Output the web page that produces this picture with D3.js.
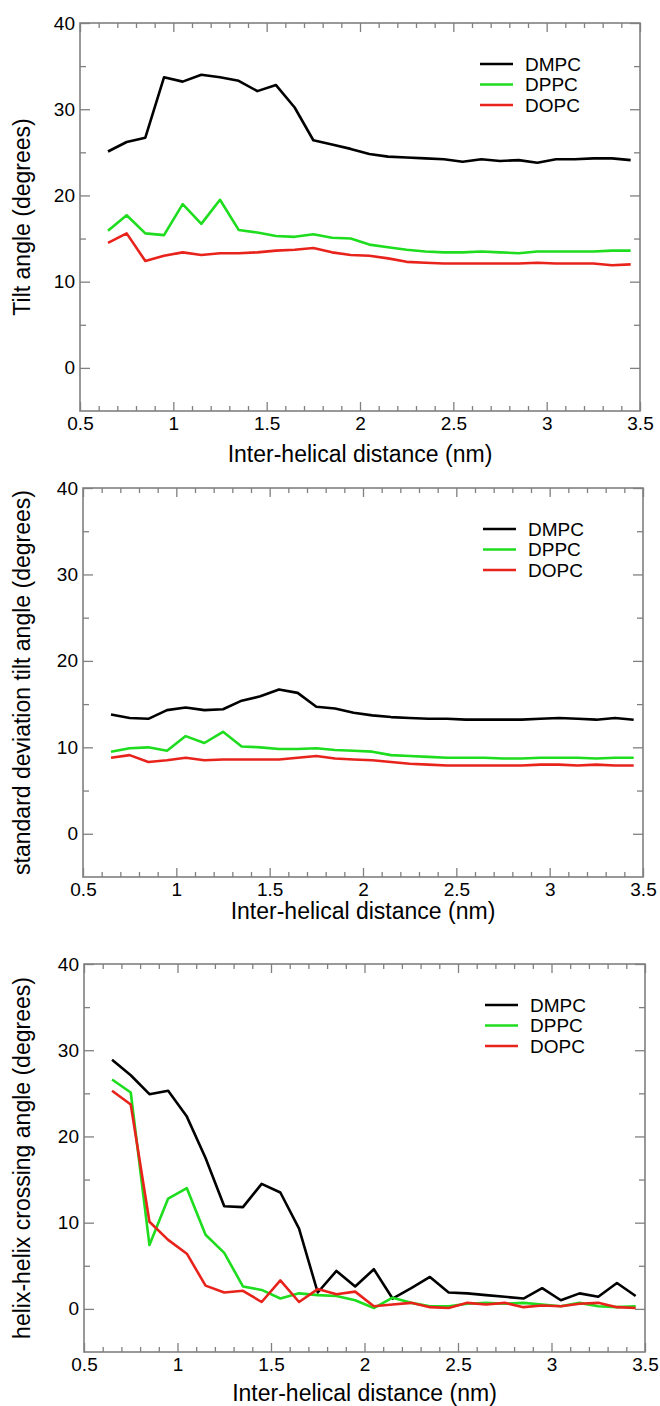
<!DOCTYPE html>
<html>
<head>
<meta charset="utf-8">
<script src="https://cdn.jsdelivr.net/npm/d3@7"></script>
<style>
  body { margin: 0; background: #fff; }
  svg { display: block; font-family: "Liberation Sans", Arial, Helvetica, sans-serif; }
</style>
</head>
<body>
<div id="chart"></div>
<script>
// inter-helical distance (nm), same for all three panels
var distance = [0.65, 0.75, 0.85, 0.95, 1.05, 1.15, 1.25, 1.35, 1.45, 1.55, 1.65, 1.75, 1.85, 1.95,
                2.05, 2.15, 2.25, 2.35, 2.45, 2.55, 2.65, 2.75, 2.85, 2.95, 3.05, 3.15, 3.25, 3.35, 3.45];

var lipids = ["DMPC", "DPPC", "DOPC"];
var colors = ["#000000", "#1edc1e", "#e8231c"];

// panel 1: tilt angle
var tiltDMPC = [25.1, 26.2, 26.7, 33.7, 33.2, 34.0, 33.7, 33.3, 32.1, 32.8, 30.2, 26.4, 25.9, 25.4,
                24.8, 24.5, 24.4, 24.3, 24.2, 23.9, 24.2, 24.0, 24.1, 23.8, 24.2, 24.2, 24.3, 24.3, 24.1];
var tiltDPPC = [15.9, 17.7, 15.6, 15.4, 19.0, 16.7, 19.5, 16.0, 15.7, 15.3, 15.2, 15.5, 15.1, 15.0,
                14.3, 14.0, 13.7, 13.5, 13.4, 13.4, 13.5, 13.4, 13.3, 13.5, 13.5, 13.5, 13.5, 13.6, 13.6];
var tiltDOPC = [14.5, 15.6, 12.4, 13.0, 13.4, 13.1, 13.3, 13.3, 13.4, 13.6, 13.7, 13.9, 13.4, 13.1,
                13.0, 12.7, 12.3, 12.2, 12.1, 12.1, 12.1, 12.1, 12.1, 12.2, 12.1, 12.1, 12.1, 11.9, 12.0];

// panel 2: standard deviation of tilt angle
var sdDMPC = [13.8, 13.4, 13.3, 14.3, 14.6, 14.3, 14.4, 15.4, 15.9, 16.7, 16.3, 14.7, 14.5, 14.0,
              13.7, 13.5, 13.4, 13.3, 13.3, 13.2, 13.2, 13.2, 13.2, 13.3, 13.4, 13.3, 13.2, 13.4, 13.2];
var sdDPPC = [9.5, 9.9, 10.0, 9.6, 11.3, 10.5, 11.8, 10.1, 10.0, 9.8, 9.8, 9.9, 9.7, 9.6,
              9.5, 9.1, 9.0, 8.9, 8.8, 8.8, 8.8, 8.7, 8.7, 8.8, 8.8, 8.8, 8.7, 8.8, 8.8];
var sdDOPC = [8.8, 9.1, 8.3, 8.5, 8.8, 8.5, 8.6, 8.6, 8.6, 8.6, 8.8, 9.0, 8.7, 8.6,
              8.5, 8.3, 8.1, 8.0, 7.9, 7.9, 7.9, 7.9, 7.9, 8.0, 8.0, 7.9, 8.0, 7.9, 7.9];

// panel 3: helix-helix crossing angle
var crossDMPC = [28.9, 27.1, 24.9, 25.3, 22.3, 17.5, 11.9, 11.8, 14.5, 13.5, 9.3, 1.9, 4.4, 2.6,
                 4.6, 1.2, 2.4, 3.7, 1.9, 1.8, 1.6, 1.4, 1.2, 2.4, 1.0, 1.8, 1.4, 3.0, 1.5];
var crossDPPC = [26.6, 25.1, 7.4, 12.8, 14.0, 8.6, 6.5, 2.6, 2.2, 1.2, 1.8, 1.6, 1.5, 1.0,
                 0.1, 1.3, 0.7, 0.3, 0.3, 0.6, 0.7, 0.6, 0.7, 0.5, 0.3, 0.7, 0.3, 0.2, 0.3];
var crossDOPC = [25.3, 23.7, 10.1, 8.0, 6.4, 2.7, 1.9, 2.1, 0.8, 3.3, 0.8, 2.3, 1.7, 2.0,
                 0.3, 0.5, 0.7, 0.2, 0.1, 0.7, 0.5, 0.7, 0.2, 0.4, 0.3, 0.6, 0.7, 0.2, 0.1];

// tick values
var xMajor = [0.5, 1, 1.5, 2, 2.5, 3, 3.5];
var xMinor = [0.6, 0.7, 0.8, 0.9, 1.1, 1.2, 1.3, 1.4, 1.6, 1.7, 1.8, 1.9, 2.1, 2.2, 2.3, 2.4,
              2.6, 2.7, 2.8, 2.9, 3.1, 3.2, 3.3, 3.4];
var yMajor = [0, 10, 20, 30, 40];
var yMinor = [5, 15, 25, 35];

var width = 660, height = 1406;

var panels = [
  { ylabel: "Tilt angle (degrees)", series: [tiltDMPC, tiltDPPC, tiltDOPC],
    left: 80, right: 640, top: 23, bottom: 411, xtitle: 51 },
  { ylabel: "standard deviation tilt angle (degrees)", series: [sdDMPC, sdDPPC, sdDOPC],
    left: 83, right: 643, top: 488, bottom: 877, xtitle: 42 },
  { ylabel: "helix-helix crossing angle (degrees)", series: [crossDMPC, crossDPPC, crossDOPC],
    left: 84, right: 645, top: 964, bottom: 1352, xtitle: 49 }
];

var svg = d3.select("#chart").append("svg")
    .attr("width", width)
    .attr("height", height);

svg.append("rect").attr("width", width).attr("height", height).attr("fill", "#fff");

var frameColor = "#808080";
var fmt = d3.format("");

panels.forEach(function(p) {
  var x = d3.scaleLinear().domain([0.5, 3.5]).range([p.left, p.right]);
  var y = d3.scaleLinear().domain([-5, 40]).range([p.bottom, p.top]);
  var g = svg.append("g");

  // ticks (inward on all four sides)
  function styleAxis(sel) {
    sel.select(".domain").remove();
    sel.selectAll(".tick line").attr("stroke", frameColor).attr("stroke-width", 1.3);
    sel.selectAll(".tick text").attr("fill", "#000").style("font-size", "19px")
       .style("font-family", "'Liberation Sans', Arial, sans-serif");
  }

  g.append("g").attr("transform", "translate(0," + p.bottom + ")")
    .call(d3.axisBottom(x).tickValues(xMajor).tickSize(-9).tickPadding(6).tickFormat(fmt))
    .call(styleAxis);
  g.append("g").attr("transform", "translate(0," + p.bottom + ")")
    .call(d3.axisBottom(x).tickValues(xMinor).tickSize(-5).tickFormat(""))
    .call(styleAxis);
  g.append("g").attr("transform", "translate(0," + p.top + ")")
    .call(d3.axisTop(x).tickValues(xMajor).tickSize(-9).tickFormat(""))
    .call(styleAxis);
  g.append("g").attr("transform", "translate(0," + p.top + ")")
    .call(d3.axisTop(x).tickValues(xMinor).tickSize(-5).tickFormat(""))
    .call(styleAxis);

  g.append("g").attr("transform", "translate(" + p.left + ",0)")
    .call(d3.axisLeft(y).tickValues(yMajor).tickSize(-10).tickPadding(5).tickFormat(fmt))
    .call(styleAxis);
  g.append("g").attr("transform", "translate(" + p.left + ",0)")
    .call(d3.axisLeft(y).tickValues(yMinor).tickSize(-6).tickFormat(""))
    .call(styleAxis);
  g.append("g").attr("transform", "translate(" + p.right + ",0)")
    .call(d3.axisRight(y).tickValues(yMajor).tickSize(-10).tickFormat(""))
    .call(styleAxis);
  g.append("g").attr("transform", "translate(" + p.right + ",0)")
    .call(d3.axisRight(y).tickValues(yMinor).tickSize(-6).tickFormat(""))
    .call(styleAxis);

  // frame
  g.append("rect")
    .attr("x", p.left).attr("y", p.top)
    .attr("width", p.right - p.left).attr("height", p.bottom - p.top)
    .attr("fill", "none").attr("stroke", frameColor).attr("stroke-width", 1.6);

  // lines
  var line = d3.line()
    .x(function(d, i) { return x(distance[i]); })
    .y(function(d) { return y(d); });

  p.series.forEach(function(s, k) {
    g.append("path")
      .datum(s)
      .attr("fill", "none")
      .attr("stroke", colors[k])
      .attr("stroke-width", 2.6)
      .attr("stroke-linejoin", "round")
      .attr("d", line);
  });

  // legend
  var leg = g.append("g").attr("transform", "translate(" + (p.right - 160) + "," + (p.top + 41) + ")");
  lipids.forEach(function(name, k) {
    leg.append("line")
      .attr("x1", 0).attr("x2", 33)
      .attr("y1", k * 20.5).attr("y2", k * 20.5)
      .attr("stroke", colors[k]).attr("stroke-width", 2.6);
    leg.append("text")
      .attr("x", 45).attr("y", k * 20.5).attr("dy", "0.36em")
      .style("font-size", "19px")
      .text(name);
  });

  // axis titles
  g.append("text")
    .attr("x", (p.left + p.right) / 2)
    .attr("y", p.bottom + p.xtitle)
    .attr("text-anchor", "middle")
    .style("font-size", "23px")
    .text("Inter-helical distance (nm)");

  g.append("text")
    .attr("transform", "translate(30," + (p.top + p.bottom) / 2 + ") rotate(-90)")
    .attr("text-anchor", "middle")
    .style("font-size", "23px")
    .text(p.ylabel);
});
</script>
</body>
</html>
